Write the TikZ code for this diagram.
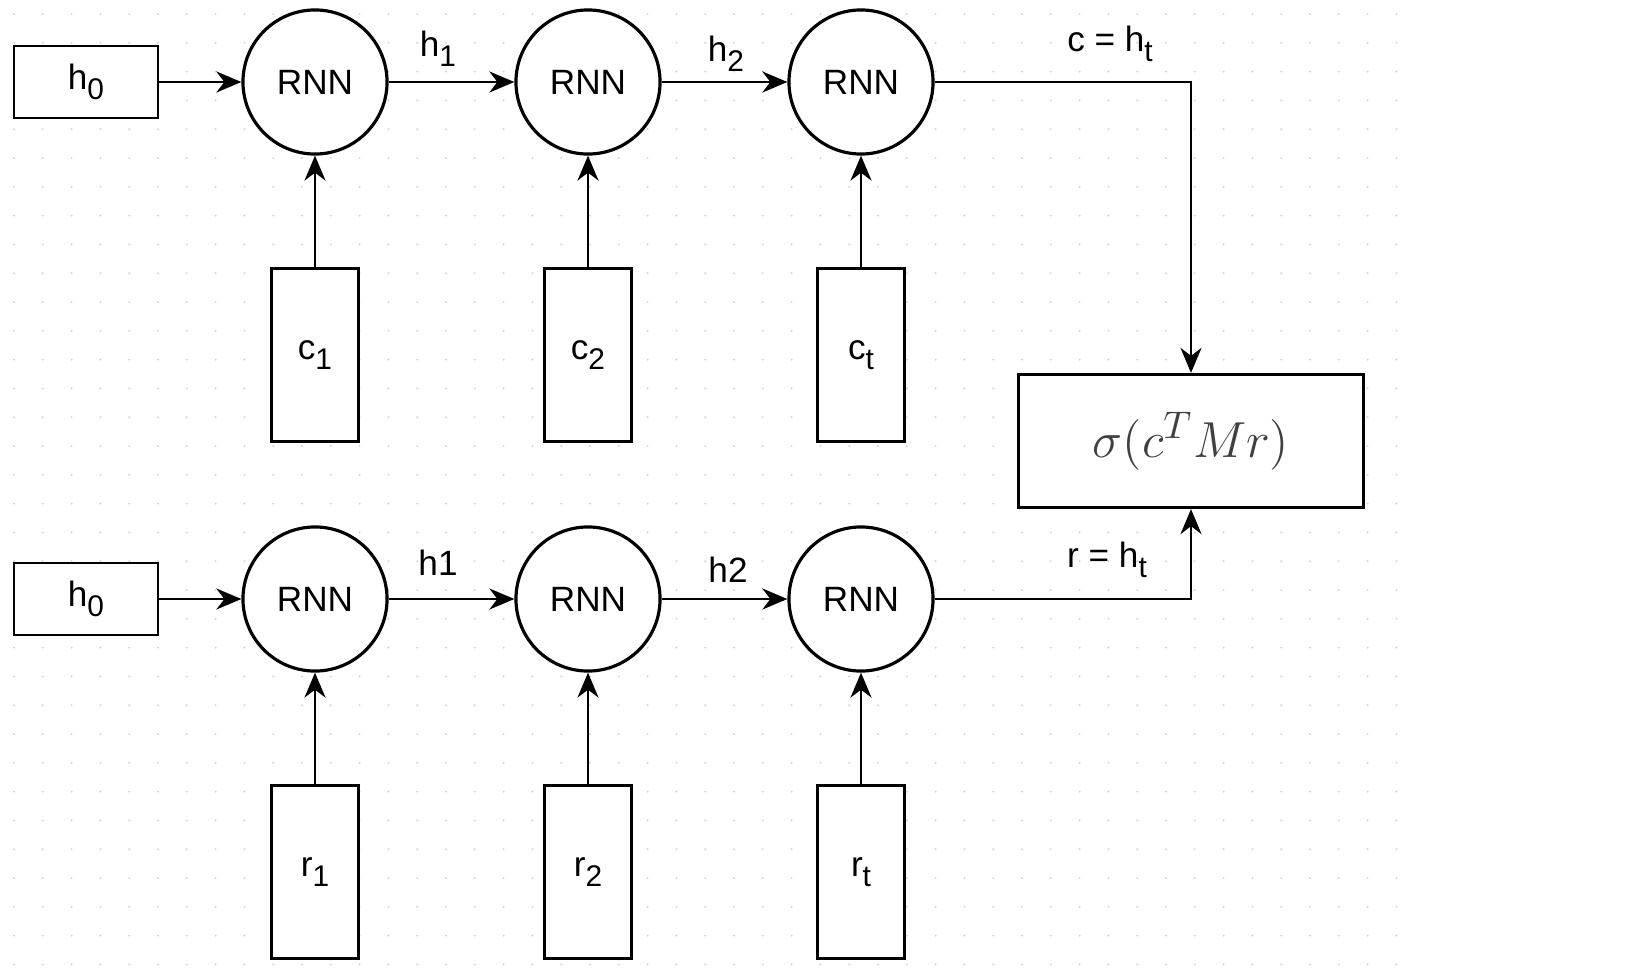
\documentclass[tikz,border=0pt]{standalone}
\usepackage{fontspec}
\setmainfont{Liberation Sans}
\usetikzlibrary{arrows.meta}
\newcommand\lsub[1]{\raisebox{-0.27em}{\fontsize{8.5}{10}\selectfont#1}}
\tikzset{hbox/.style = {draw, fill=white, line width=0.8pt, rectangle, minimum height=0.72cm, minimum width=1.44cm},
         rnn/.style = {draw, fill=white, line width=0.9pt, circle, minimum size=1.44cm, inner sep=0pt},
         inbox/.style = {draw, fill=white, line width=0.9pt, rectangle, minimum height=1.73cm, minimum width=0.87cm},
         score/.style = {draw, fill=white, line width=0.9pt, rectangle, minimum height=1.33cm, minimum width=3.45cm},
         lbl/.style = {inner sep=0pt},
         arr/.style = {-{Stealth[length=0.25cm,width=0.21cm,inset=0.08cm]}, line width=0.7pt}}

\begin{document}
\begin{tikzpicture}[x=0.01cm,y=-0.01cm,font=\fontsize{10}{12}\selectfont]
        \useasboundingbox (0,0) rectangle (1640,970);
        % dotted grid
        \foreach \i in {0,...,48}
          \foreach \j in {0,...,33}
            \fill[gray!35] (14+\i*28.8,14+\j*28.8) circle (0.011cm);

        % context row
        \node[hbox](h0a)at(86,82){h\lsub{0}};
        \node[rnn](rnna1)at(315,82){RNN};
        \node[rnn](rnna2)at(588,82){RNN};
        \node[rnn](rnna3)at(861,82){RNN};
        \node[inbox](ca1)at(315,355){c\lsub{1}};
        \node[inbox](ca2)at(588,355){c\lsub{2}};
        \node[inbox](ca3)at(861,355){c\lsub{t}};

        % response row
        \node[hbox](h0b)at(86,599){h\lsub{0}};
        \node[rnn](rnnb1)at(315,599){RNN};
        \node[rnn](rnnb2)at(588,599){RNN};
        \node[rnn](rnnb3)at(861,599){RNN};
        \node[inbox](rb1)at(315,872){r\lsub{1}};
        \node[inbox](rb2)at(588,872){r\lsub{2}};
        \node[inbox](rb3)at(861,872){r\lsub{t}};

        \node[score](score)at(1191,441){\color{black!75}\fontsize{15}{18}\selectfont$\sigma(c^TMr)$};

        \draw[arr](h0a)--(rnna1);
        \draw[arr](rnna1)--(rnna2);
        \draw[arr](rnna2)--(rnna3);
        \draw[arr](ca1)--(rnna1);
        \draw[arr](ca2)--(rnna2);
        \draw[arr](ca3)--(rnna3);
        \draw[arr](rnna3)-|(score);

        \draw[arr](h0b)--(rnnb1);
        \draw[arr](rnnb1)--(rnnb2);
        \draw[arr](rnnb2)--(rnnb3);
        \draw[arr](rb1)--(rnnb1);
        \draw[arr](rb2)--(rnnb2);
        \draw[arr](rb3)--(rnnb3);
        \draw[arr](rnnb3)-|(score);

        \node[lbl](lh1a)at(438,49){h\lsub{1}};
        \node[lbl](lh2a)at(726,54){h\lsub{2}};
        \node[lbl](lca)at(1110,44){c = h\lsub{t}};
        \node[lbl](lh1b)at(438,563){h1};
        \node[lbl](lh2b)at(728,570){h2};
        \node[lbl](lrb)at(1107,560){r = h\lsub{t}};
\end{tikzpicture}
\end{document}
